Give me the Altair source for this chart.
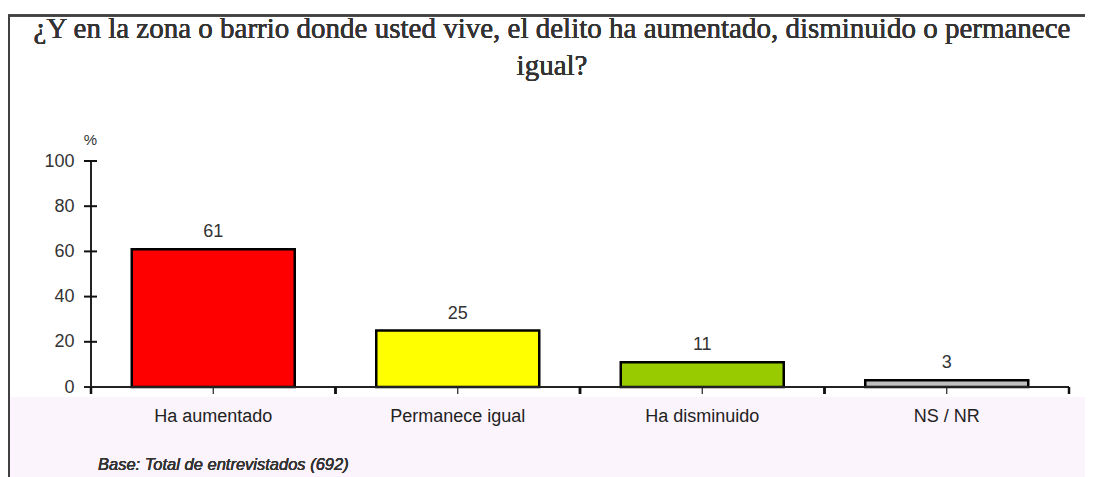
import altair as alt
import pandas as pd

categories = ["Ha aumentado", "Permanece igual", "Ha disminuido", "NS / NR"]
values = [61, 25, 11, 3]
colors = ["#FF0000", "#FFFF00", "#99CC00", "#C0C0C0"]
y_ticks = [0, 20, 40, 60, 80, 100]
title_lines = ["¿Y en la zona o barrio donde usted vive, el delito ha aumentado, disminuido o permanece",
               "igual?"]
note = "Base: Total de entrevistados (692)"

df = pd.DataFrame({"cat": categories, "val": values, "color": colors})
ticks_df = pd.DataFrame({"t": y_ticks})

W, H = 978, 226
STEP = W / len(categories)
FONT = "Liberation Sans"

xenc = alt.X("cat:N", sort=categories,
             scale=alt.Scale(domain=categories, paddingInner=1/3, paddingOuter=1/6),
             axis=None)
yscale = alt.Scale(domain=[0, 100], nice=False, zero=True)

base = alt.Chart(df)

# background pink band and frame
pink = base.mark_rect(color="#FCF4FC").encode(
    x=alt.value(-81), x2=alt.value(994), y=alt.value(236), y2=alt.value(320))
frame_top = base.mark_rule(color="#404040", strokeWidth=2).encode(
    x=alt.value(-83), x2=alt.value(994), y=alt.value(-145.5))
frame_left = base.mark_rule(color="#404040", strokeWidth=2).encode(
    x=alt.value(-82), y=alt.value(-145.5), y2=alt.value(320))

bars = base.mark_bar(stroke="black", strokeWidth=2.5).encode(
    x=xenc,
    y=alt.Y("val:Q", scale=yscale,
            axis=alt.Axis(values=y_ticks, domain=False, ticks=False, grid=False,
                          labelPadding=17, labelFontSize=18, labelFont=FONT,
                          labelColor="#333333", title="%", titleAngle=0,
                          titleX=-1, titleY=-22, titleAlign="center",
                          titleBaseline="middle", titleFontSize=15,
                          titleFont=FONT, titleFontWeight="normal",
                          titleColor="#333333")),
    color=alt.Color("color:N", scale=None, legend=None),
)

val_labels = base.mark_text(fontSize=18, font=FONT, color="#333333",
                            baseline="alphabetic", dy=-12).encode(
    x=xenc, y=alt.Y("val:Q", scale=yscale), text=alt.Text("val:Q"))

cat_labels = base.mark_text(fontSize=18, font=FONT, color="#222222",
                            baseline="middle").encode(
    x=xenc, y=alt.value(256), text="cat:N")

# axes drawn as rules
y_domain = base.mark_rule(color="#222222", strokeWidth=2).encode(
    x=alt.value(0), y=alt.value(0), y2=alt.value(232))
y_tick_rules = alt.Chart(ticks_df).mark_rule(color="#111111", strokeWidth=2).encode(
    y=alt.Y("t:Q", scale=yscale), x=alt.value(-7), x2=alt.value(6))
x_domain = base.mark_rule(color="#222222", strokeWidth=1.5).encode(
    x=alt.value(-7), x2=alt.value(W), y=alt.value(H))
x_center_ticks = base.mark_rule(color="#222222", strokeWidth=1.2).encode(
    x=xenc, y=alt.value(H), y2=alt.value(H + 7))
x_left_ticks = base.mark_rule(color="#111111", strokeWidth=2.5, xOffset=-STEP / 2).encode(
    x=xenc, y=alt.value(H), y2=alt.value(H + 7))
x_right_ticks = base.mark_rule(color="#111111", strokeWidth=2.5, xOffset=STEP / 2).encode(
    x=xenc, y=alt.value(H), y2=alt.value(H + 7))

title = base.mark_text(font="Liberation Serif", fontSize=29, color="#333333",
                       align="center", baseline="alphabetic",
                       lineBreak="\n", lineHeight=37).encode(
    x=alt.value(461), y=alt.value(-123), text=alt.value("\n".join(title_lines)))

note_text = base.mark_text(font=FONT, fontSize=16.5, fontStyle="italic",
                           color="#333333", align="left", baseline="middle").encode(
    x=alt.value(7), y=alt.value(304), text=alt.value(note))

chart = alt.layer(
    pink, frame_top, frame_left, bars, val_labels, cat_labels,
    y_domain, y_tick_rules, x_domain, x_center_ticks, x_left_ticks, x_right_ticks,
    title, note_text,
).properties(
    width=W, height=H,
    autosize=alt.AutoSizeParams(type="none"),
    padding={"left": 83, "top": 153, "right": 16, "bottom": 90},
    background="white",
).configure_view(stroke=None)

chart.save("out.html", embed_options={"renderer": "svg", "actions": False})
